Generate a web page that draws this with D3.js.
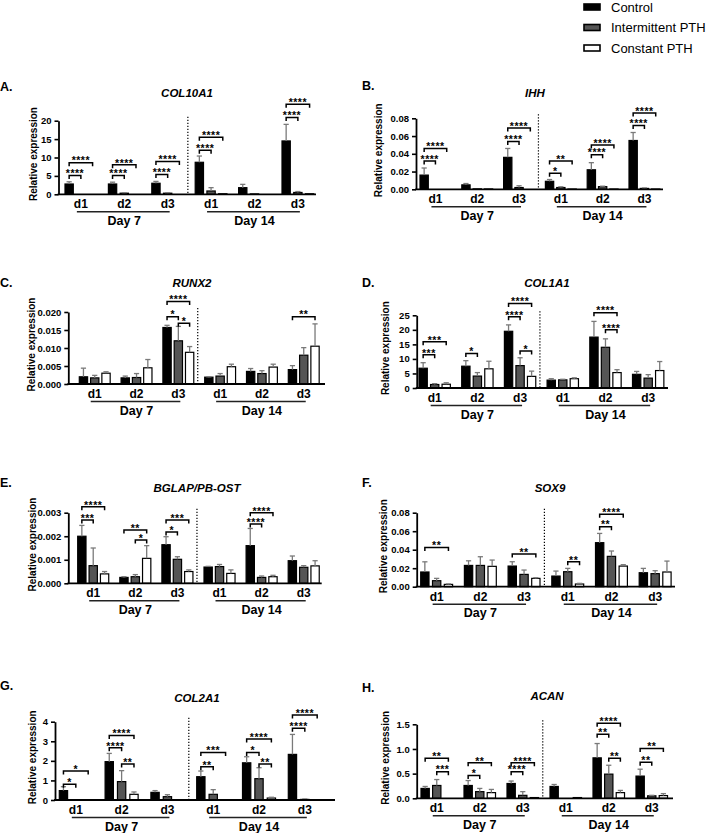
<!DOCTYPE html>
<html><head><meta charset="utf-8">
<script src="https://cdn.jsdelivr.net/npm/d3@7"></script>
<style>body{margin:0;background:#fff} svg{display:block}</style>
</head><body><svg id="c" width="709" height="833"></svg>
<script>
// ---------- data ----------
const categories = ["d1","d2","d3","d1","d2","d3"];
const days = ["Day 7","Day 14"];
const series = ["Control","Intermittent PTH","Constant PTH"];

const COL10A1_ticks = [0,5,10,15,20];
const COL10A1_control = [2.8, 2.8, 3.0, 8.7, 1.8, 14.5];
const COL10A1_controlSD = [0.6, 0.5, 0.5, 1.7, 0.9, 4.5];
const COL10A1_intermittent = [0, 0.3, 0.3, 0.9, 0.1, 0.5];
const COL10A1_intermittentSD = [0, 0.1, 0.1, 0.9, 0, 0.25];
const COL10A1_constant = [0, 0, 0, 0.15, 0, 0.15];
const COL10A1_constantSD = [0, 0, 0, 0, 0, 0];
const COL10A1_sig = [[0,0,1,5.1,"****"],[0,0,2,8.6,"****"],[1,0,1,5.1,"****"],[1,0,2,8.0,"****"],[2,0,1,5.4,"****"],[2,0,2,8.9,"****"],[3,0,1,12.0,"****"],[3,0,2,15.5,"****"],[5,0,1,20.9,"****"],[5,0,2,24.5,"****"]];

const IHH_ticks = [0,0.02,0.04,0.06,0.08];
const IHH_control = [0.016, 0.005, 0.036, 0.009, 0.022, 0.055];
const IHH_controlSD = [0.008, 0.0015, 0.010, 0.002, 0.008, 0.009];
const IHH_intermittent = [0, 0.0005, 0.002, 0.002, 0.003, 0.001];
const IHH_intermittentSD = [0, 0, 0.002, 0.0008, 0.0005, 0.0005];
const IHH_constant = [0, 0.0004, 0, 0.0003, 0.0003, 0.0003];
const IHH_constantSD = [0, 0, 0, 0, 0, 0];
const IHH_sig = [[0,0,1,0.032,"****"],[0,0,2,0.046,"****"],[2,0,1,0.054,"****"],[2,0,2,0.069,"****"],[3,0,1,0.018,"*"],[3,0,2,0.032,"**"],[4,0,1,0.039,"****"],[4,0,2,0.050,"****"],[5,0,1,0.072,"****"],[5,0,2,0.086,"****"]];

const RUNX2_ticks = [0,0.005,0.010,0.015,0.020];
const RUNX2_control = [0.0020, 0.0017, 0.0157, 0.0019, 0.0035, 0.0040];
const RUNX2_controlSD = [0.0024, 0.0005, 0.0006, 0.0001, 0.0008, 0.0011];
const RUNX2_intermittent = [0.0017, 0.0018, 0.0120, 0.0022, 0.0029, 0.0080];
const RUNX2_intermittentSD = [0.0007, 0.0011, 0.0040, 0.0007, 0.0008, 0.0021];
const RUNX2_constant = [0.0030, 0.0045, 0.0088, 0.0048, 0.0047, 0.0105];
const RUNX2_constantSD = [0.0004, 0.0023, 0.0016, 0.0007, 0.0008, 0.0062];
const RUNX2_sig = [[2,0,1,0.0187,"*"],[2,1,2,0.0169,"*"],[2,0,2,0.0229,"****"],[5,0,2,0.0187,"**"]];

const COL1A1_ticks = [0,5,10,15,20,25];
const COL1A1_control = [6.8, 7.5, 19.5, 2.7, 17.5, 4.7];
const COL1A1_controlSD = [1.9, 1.9, 2.2, 0.5, 5.4, 1.0];
const COL1A1_intermittent = [1.2, 4.1, 7.7, 2.8, 14.0, 3.4];
const COL1A1_intermittentSD = [0.3, 1.2, 2.7, 0.2, 2.9, 1.2];
const COL1A1_constant = [1.3, 6.6, 4.0, 3.2, 5.3, 6.0];
const COL1A1_constantSD = [0.5, 2.6, 1.8, 0.3, 1.0, 3.1];
const COL1A1_sig = [[0,0,1,11.4,"***"],[0,0,2,15.9,"***"],[1,0,1,11.9,"*"],[2,0,1,24.5,"****"],[2,0,2,29.1,"****"],[2,1,2,12.7,"*"],[4,1,2,20.0,"****"],[4,0,2,25.9,"****"]];

const BGLAP_ticks = [0,0.001,0.002,0.003];
const BGLAP_control = [0.0020, 0.00025, 0.00164, 0.00069, 0.0016, 0.00096];
const BGLAP_controlSD = [0.00046, 0.00003, 0.00034, 0.00003, 0.00073, 0.0002];
const BGLAP_intermittent = [0.00075, 0.00028, 0.00102, 0.00071, 0.00025, 0.00068];
const BGLAP_intermittentSD = [0.00075, 0.00009, 0.00011, 0.00009, 0.00006, 0.00007];
const BGLAP_constant = [0.0004, 0.00106, 0.0005, 0.00042, 0.00028, 0.00074];
const BGLAP_constantSD = [0.0001, 0.00054, 0.00007, 0.00015, 0.00006, 0.00022];
const BGLAP_sig = [[0,0,1,0.00269,"***"],[0,0,2,0.00325,"****"],[1,0,2,0.00226,"**"],[1,1,2,0.00184,"*"],[2,0,1,0.00218,"*"],[2,0,2,0.00269,"***"],[4,0,1,0.00252,"****"],[4,0,2,0.0030,"****"]];

const SOX9_ticks = [0,0.02,0.04,0.06,0.08];
const SOX9_control = [0.0159, 0.023, 0.0223, 0.0115, 0.0476, 0.0151];
const SOX9_controlSD = [0.011, 0.005, 0.0047, 0.0054, 0.010, 0.0047];
const SOX9_intermittent = [0.0065, 0.023, 0.0133, 0.0162, 0.0328, 0.0141];
const SOX9_intermittentSD = [0.0025, 0.0094, 0.0047, 0.0036, 0.0058, 0.0032];
const SOX9_constant = [0.0025, 0.022, 0.009, 0.0029, 0.0223, 0.0159];
const SOX9_constantSD = [0.0005, 0.0068, 0.0007, 0.0007, 0.0015, 0.0118];
const SOX9_sig = [[0,0,2,0.0425,"**"],[2,0,2,0.0353,"**"],[3,1,2,0.027,"**"],[4,0,1,0.0649,"**"],[4,0,2,0.0782,"****"]];

const COL2A1_ticks = [0,1,2,3,4];
const COL2A1_control = [0.48, 1.96, 0.39, 1.19, 1.9, 2.33];
const COL2A1_controlSD = [0.2, 0.42, 0.09, 0.29, 0.31, 1.02];
const COL2A1_intermittent = [0, 0.94, 0.17, 0.29, 1.09, 0.03];
const COL2A1_intermittentSD = [0, 0.56, 0.1, 0.24, 0.56, 0.02];
const COL2A1_constant = [0, 0.29, 0, 0.02, 0.1, 0];
const COL2A1_constantSD = [0, 0.12, 0, 0, 0.04, 0];
const COL2A1_sig = [[0,0,1,0.8,"*"],[0,0,2,1.48,"*"],[1,0,1,2.67,"****"],[1,1,2,1.84,"**"],[1,0,2,3.29,"****"],[3,0,1,1.7,"**"],[3,0,2,2.43,"***"],[4,0,1,2.43,"*"],[4,1,2,1.84,"**"],[4,0,2,3.11,"****"],[5,0,1,3.66,"****"],[5,0,2,4.34,"****"]];

const ACAN_ticks = [0,0.5,1.0,1.5];
const ACAN_control = [0.2, 0.26, 0.3, 0.24, 0.82, 0.45];
const ACAN_controlSD = [0.04, 0.1, 0.05, 0.04, 0.29, 0.14];
const ACAN_intermittent = [0.26, 0.135, 0.06, 0, 0.49, 0.05];
const ACAN_intermittentSD = [0.12, 0.065, 0.075, 0, 0.18, 0.01];
const ACAN_constant = [0, 0.115, 0.015, 0.015, 0.115, 0.055];
const ACAN_constantSD = [0, 0.065, 0, 0, 0.045, 0.04];
const ACAN_sig = [[0,0,2,0.81,"**"],[0,1,2,0.54,"***"],[1,0,1,0.46,"*"],[1,0,2,0.72,"**"],[2,0,1,0.54,"****"],[2,0,2,0.72,"****"],[4,0,1,1.3,"**"],[4,1,2,0.81,"**"],[4,0,2,1.52,"****"],[5,0,1,0.73,"**"],[5,0,2,1.01,"**"]];

// ---------- panels ----------
const panels = [
 {letter:"A.", gene:"COL10A1", ticks:COL10A1_ticks, fmt:d3.format("d"), means:[COL10A1_control,COL10A1_intermittent,COL10A1_constant], sds:[COL10A1_controlSD,COL10A1_intermittentSD,COL10A1_constantSD], sig:COL10A1_sig,
  L:{axisX:58.5, axisEnd:316, firstBar:65, step:43.4, base:194.3, top:120.7, lx:0, ly:91, tx:187, ty:97, ylx:33}},
 {letter:"B.", gene:"IHH", ticks:IHH_ticks, fmt:d3.format(".2f"), means:[IHH_control,IHH_intermittent,IHH_constant], sds:[IHH_controlSD,IHH_intermittentSD,IHH_constantSD], sig:IHH_sig,
  L:{axisX:416, axisEnd:663, firstBar:420, step:41.8, base:189.3, top:118.3, lx:362, ly:90, tx:535, ty:97, ylx:378}},
 {letter:"C.", gene:"RUNX2", ticks:RUNX2_ticks, fmt:d3.format(".3f"), means:[RUNX2_control,RUNX2_intermittent,RUNX2_constant], sds:[RUNX2_controlSD,RUNX2_intermittentSD,RUNX2_constantSD], sig:RUNX2_sig,
  L:{axisX:68.3, axisEnd:325, firstBar:79.3, step:41.8, base:384, top:312, lx:0, ly:287, tx:192, ty:287, ylx:31.7}},
 {letter:"D.", gene:"COL1A1", ticks:COL1A1_ticks, fmt:d3.format("d"), means:[COL1A1_control,COL1A1_intermittent,COL1A1_constant], sds:[COL1A1_controlSD,COL1A1_intermittentSD,COL1A1_constantSD], sig:COL1A1_sig,
  L:{axisX:416.7, axisEnd:668, firstBar:419, step:42.7, base:388, top:315.3, lx:362, ly:287, tx:547, ty:287, ylx:385}},
 {letter:"E.", gene:"BGLAP/PB-OST", ticks:BGLAP_ticks, fmt:d3.format(".3f"), means:[BGLAP_control,BGLAP_intermittent,BGLAP_constant], sds:[BGLAP_controlSD,BGLAP_intermittentSD,BGLAP_constantSD], sig:BGLAP_sig,
  L:{axisX:68.3, axisEnd:321.7, firstBar:77.7, step:42.1, base:583.3, top:512.7, lx:0, ly:487, tx:197, ty:492, ylx:32}},
 {letter:"F.", gene:"SOX9", ticks:SOX9_ticks, fmt:d3.format(".2f"), means:[SOX9_control,SOX9_intermittent,SOX9_constant], sds:[SOX9_controlSD,SOX9_intermittentSD,SOX9_constantSD], sig:SOX9_sig,
  L:{axisX:416.7, axisEnd:675, firstBar:420.7, step:43.7, base:586.7, top:512.7, lx:362, ly:487, tx:550, ty:492, ylx:383}},
 {letter:"G.", gene:"COL2A1", ticks:COL2A1_ticks, fmt:d3.format("d"), means:[COL2A1_control,COL2A1_intermittent,COL2A1_constant], sds:[COL2A1_controlSD,COL2A1_intermittentSD,COL2A1_constantSD], sig:COL2A1_sig,
  L:{axisX:55, axisEnd:335, firstBar:59.3, step:45.8, base:800, top:721.7, lx:0, ly:690, tx:197, ty:702, ylx:32}},
 {letter:"H.", gene:"ACAN", ticks:ACAN_ticks, fmt:d3.format(".1f"), means:[ACAN_control,ACAN_intermittent,ACAN_constant], sds:[ACAN_controlSD,ACAN_intermittentSD,ACAN_constantSD], sig:ACAN_sig,
  L:{axisX:416.7, axisEnd:673, firstBar:421, step:43, base:798.3, top:724.3, lx:362, ly:692, tx:547, ty:700, ylx:385}}
];

const FONT = "'Liberation Sans', Arial, Helvetica, sans-serif";
const fills = ["#000000", "#555555", "#ffffff"];
const svg = d3.select("#c").style("font-family", FONT);

function drawPanel(p) {
  const L = p.L;
  const g = svg.append("g");
  const ymax = p.ticks[p.ticks.length - 1];
  const y = d3.scaleLinear().domain([0, ymax]).range([L.base, L.top]);
  const w = 8.3, pitch = 0.27 * L.step, gw = 2 * pitch + w;
  const x0 = d3.scaleBand().domain(d3.range(6))
      .range([L.firstBar, L.firstBar + 5 * L.step + gw])
      .paddingInner(1 - gw / L.step).paddingOuter(0);
  const x1 = d3.scaleBand().domain(d3.range(3)).range([0, gw])
      .paddingInner(1 - w / pitch).paddingOuter(0);
  const bw = x1.bandwidth();
  const gc = i => x0(i) + gw / 2;
  const bc = (i, s) => x0(i) + x1(s) + bw / 2;

  // panel letter & title
  g.append("text").attr("x", L.lx).attr("y", L.ly).text(p.letter)
    .attr("font-size", 12.5).attr("font-weight", "bold");
  g.append("text").attr("x", L.tx).attr("y", L.ty).text(p.gene)
    .attr("font-size", 11.5).attr("font-weight", "bold").attr("font-style", "italic")
    .attr("text-anchor", "middle");

  // y label
  g.append("text")
    .attr("transform", `translate(${L.ylx},${(L.base + L.top) / 2 - 3.5}) rotate(-90)`)
    .attr("text-anchor", "middle").attr("dominant-baseline", "central")
    .attr("font-size", 10).attr("font-weight", "bold").text("Relative expression");

  // bars
  for (let s = 0; s < 3; s++) {
    g.append("g").selectAll("rect").data(p.means[s]).join("rect")
      .attr("x", (d, i) => x0(i) + x1(s))
      .attr("y", d => y(d))
      .attr("width", bw)
      .attr("height", d => L.base - y(d))
      .attr("fill", fills[s]).attr("stroke", "#000").attr("stroke-width", 1.2);
  }
  // error bars
  for (let s = 0; s < 3; s++) {
    const eg = g.append("g").attr("stroke", "#7a7a7a").attr("stroke-width", 1.3);
    p.means[s].forEach((m, i) => {
      const sd = p.sds[s][i];
      if (!sd) return;
      const cx = bc(i, s);
      eg.append("line").attr("x1", cx).attr("x2", cx).attr("y1", y(m)).attr("y2", y(m + sd));
      eg.append("line").attr("x1", cx - 2.6).attr("x2", cx + 2.6).attr("y1", y(m + sd)).attr("y2", y(m + sd));
    });
  }

  // axes
  const ax = d3.axisLeft(y).tickValues(p.ticks).tickFormat(p.fmt).tickSize(4).tickSizeOuter(0).tickPadding(3);
  const ag = g.append("g").attr("transform", `translate(${L.axisX},0)`).call(ax);
  ag.select(".domain").attr("stroke-width", 1.8);
  ag.selectAll(".tick line").attr("stroke-width", 1.6);
  ag.selectAll(".tick text").attr("font-size", 9.5).attr("font-weight", "bold")
    .attr("font-family", FONT).attr("fill", "#000");
  g.append("line").attr("x1", L.axisX - 0.9).attr("x2", L.axisEnd)
    .attr("y1", L.base).attr("y2", L.base).attr("stroke", "#000").attr("stroke-width", 1.8);

  // divider
  const dx = (gc(2) + gc(3)) / 2 - 1.5;
  g.append("line").attr("x1", dx).attr("x2", dx).attr("y1", L.top - 4).attr("y2", L.base)
    .attr("stroke", "#000").attr("stroke-width", 1.2).attr("stroke-dasharray", "1.3,1.7");

  // category labels
  categories.forEach((c, i) => {
    g.append("text").attr("x", gc(i)).attr("y", L.base + 14).text(c)
      .attr("text-anchor", "middle").attr("font-size", 12).attr("font-weight", "bold");
  });
  days.forEach((d, k) => {
    const a = gc(3 * k) - 4, b = gc(3 * k + 2) + 2;
    g.append("line").attr("x1", a).attr("x2", b).attr("y1", L.base + 17.5).attr("y2", L.base + 17.5)
      .attr("stroke", "#222").attr("stroke-width", 1.5);
    g.append("text").attr("x", gc(3 * k + 1)).attr("y", L.base + 30.5).text(d)
      .attr("text-anchor", "middle").attr("font-size", 12.5).attr("font-weight", "bold");
  });

  // significance brackets
  p.sig.forEach(([gi, a, b, v, lab]) => {
    const xa = bc(gi, a), xb = bc(gi, b), yy = y(v);
    g.append("path").attr("d", `M${xa},${yy + 3.5}V${yy}H${xb}V${yy + 3.5}`)
      .attr("fill", "none").attr("stroke", "#000").attr("stroke-width", 1.5);
    g.append("text").attr("x", (xa + xb) / 2).attr("y", yy + 1.8).text(lab)
      .attr("text-anchor", "middle").attr("font-size", 10.5).attr("font-weight", "bold")
      .attr("letter-spacing", 0.5);
  });
}

panels.forEach(drawPanel);

// legend
const lg = svg.append("g");
series.forEach((s, i) => {
  const cy = 7 + i * 20.5;
  lg.append("rect").attr("x", 584).attr("y", cy - 3).attr("width", 16).attr("height", 6)
    .attr("fill", fills[i]).attr("stroke", "#000").attr("stroke-width", 1.6);
  lg.append("text").attr("x", 611).attr("y", cy + 4.6).text(s).attr("font-size", 13);
});
</script>
</body></html>
